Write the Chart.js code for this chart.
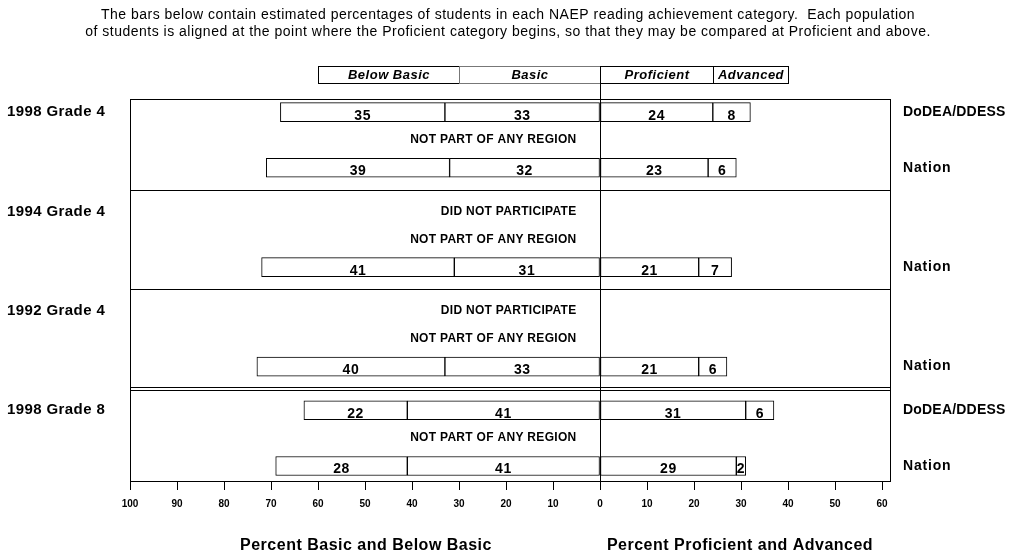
<!DOCTYPE html>
<html>
<head>
<meta charset="utf-8">
<script src="https://cdn.jsdelivr.net/npm/chart.js@4.4.1/dist/chart.umd.min.js"></script>
<style>
  body { margin: 0; background: #fff; }
  #wrap { width: 1015px; height: 552px; position: relative; }
</style>
</head>
<body>
<div id="wrap"><canvas id="naepChart"></canvas></div>
<script>
// data
const sections = ['1998 Grade 4', '1994 Grade 4', '1992 Grade 4', '1998 Grade 8'];
const levels = ['Below Basic', 'Basic', 'Proficient', 'Advanced'];

const dodeaBelowBasic = [35, null, null, 22];
const dodeaBasic      = [33, null, null, 41];
const dodeaProficient = [24, null, null, 31];
const dodeaAdvanced   = [8,  null, null, 6];

const nationBelowBasic = [39, 41, 40, 28];
const nationBasic      = [32, 31, 33, 41];
const nationProficient = [23, 21, 21, 29];
const nationAdvanced   = [6,  7,  6,  2];

const dodeaNote  = ['', 'DID NOT PARTICIPATE', 'DID NOT PARTICIPATE', ''];
const regionNote = ['NOT PART OF ANY REGION', 'NOT PART OF ANY REGION', 'NOT PART OF ANY REGION', 'NOT PART OF ANY REGION'];

const tickValues = [-100, -90, -80, -70, -60, -50, -40, -30, -20, -10, 0, 10, 20, 30, 40, 50, 60];

const titleLines = [
    'The bars below contain estimated percentages of students in each NAEP reading achievement category.  Each population',
    'of students is aligned at the point where the Proficient category begins, so that they may be compared at Proficient and above.'
];

// layout: 3 rows per section, wider gap between sections
const SECTION_STEP = 3.57;
const rowY = (s, r) => s * SECTION_STEP + r;

function segments(bb, b, p, a) {
    return [[-(bb + b), -b], [-b, 0], [0, p], [p, p + a]];
}

const segData = [[], [], [], []];
const segValues = [[], [], [], []];
sections.forEach((sec, s) => {
    if (dodeaBelowBasic[s] != null) {
        const segs = segments(dodeaBelowBasic[s], dodeaBasic[s], dodeaProficient[s], dodeaAdvanced[s]);
        const vals = [dodeaBelowBasic[s], dodeaBasic[s], dodeaProficient[s], dodeaAdvanced[s]];
        segs.forEach((seg, k) => { segData[k].push({ x: seg, y: rowY(s, 0) }); segValues[k].push(vals[k]); });
    }
    const segs = segments(nationBelowBasic[s], nationBasic[s], nationProficient[s], nationAdvanced[s]);
    const vals = [nationBelowBasic[s], nationBasic[s], nationProficient[s], nationAdvanced[s]];
    segs.forEach((seg, k) => { segData[k].push({ x: seg, y: rowY(s, 2) }); segValues[k].push(vals[k]); });
});

const FONT = '"Liberation Sans", Arial, Helvetica, sans-serif';

const decorPlugin = {
    id: 'decor',
    afterDatasetsDraw(chart) {
        const ctx = chart.ctx;
        const area = chart.chartArea;
        const xs = chart.scales.x;
        const ys = chart.scales.y;
        ctx.save();
        ctx.fillStyle = '#000';
        ctx.strokeStyle = '#000';
        ctx.lineWidth = 1;

        // title
        ctx.font = '14px ' + FONT;
        ctx.letterSpacing = '0.5px';
        ctx.textAlign = 'center';
        ctx.textBaseline = 'middle';
        ctx.fillText(titleLines[0], 508, 15);
        ctx.fillText(titleLines[1], 508, 32);

        // legend boxes
        const bounds = [-60, -30, 0, 24, 40];
        ctx.font = 'italic bold 13px ' + FONT;
        ctx.letterSpacing = '0.5px';
        levels.forEach((lv, k) => {
            const x0 = Math.round(xs.getPixelForValue(bounds[k])) + 0.5;
            const x1 = Math.round(xs.getPixelForValue(bounds[k + 1])) + 0.5;
            ctx.strokeStyle = k === 1 ? '#777' : '#000';
            ctx.strokeRect(x0, 66.5, x1 - x0, 17);
            ctx.fillText(lv, (x0 + x1) / 2, 75.5);
        });
        ctx.strokeStyle = '#000';

        // frame
        ctx.strokeRect(area.left + 0.5, area.top + 0.5, area.right - area.left, area.bottom - area.top);

        // section separators
        for (let s = 1; s < sections.length; s++) {
            const v = s * SECTION_STEP - (SECTION_STEP - 2) / 2;
            const offs = s === 3 ? [-0.06, 0.06] : [0];
            offs.forEach(o => {
                const y = Math.round(ys.getPixelForValue(v + o)) + 0.5;
                ctx.beginPath();
                ctx.moveTo(area.left, y);
                ctx.lineTo(area.right, y);
                ctx.stroke();
            });
        }

        // zero line
        const x0 = Math.round(xs.getPixelForValue(0)) + 0.5;
        ctx.beginPath();
        ctx.moveTo(x0, 66);
        ctx.lineTo(x0, area.bottom);
        ctx.stroke();

        // segment numbers
        ctx.font = 'bold 14px ' + FONT;
        ctx.letterSpacing = '0.5px';
        ctx.textBaseline = 'alphabetic';
        chart.data.datasets.forEach((ds, k) => {
            chart.getDatasetMeta(k).data.forEach((el, i) => {
                const cx = (el.x + el.base) / 2;
                ctx.fillText(String(segValues[k][i]), cx, el.y + el.height / 2 - 2);
            });
        });

        // notes
        ctx.font = 'bold 12px ' + FONT;
        ctx.letterSpacing = '0.3px';
        ctx.textAlign = 'right';
        ctx.textBaseline = 'middle';
        const noteX = xs.getPixelForValue(-5);
        sections.forEach((sec, s) => {
            if (dodeaNote[s]) ctx.fillText(dodeaNote[s], noteX, ys.getPixelForValue(rowY(s, 0)));
            ctx.fillText(regionNote[s], noteX, ys.getPixelForValue(rowY(s, 1)));
        });

        // row labels
        ctx.textAlign = 'left';
        sections.forEach((sec, s) => {
            ctx.font = 'bold 15px ' + FONT;
            ctx.letterSpacing = '0.4px';
            ctx.fillText(sec, 7, ys.getPixelForValue(rowY(s, 0)));
            ctx.font = 'bold 14px ' + FONT;
            ctx.letterSpacing = '0.2px';
            if (dodeaBelowBasic[s] != null) ctx.fillText('DoDEA/DDESS', 903, ys.getPixelForValue(rowY(s, 0)));
            ctx.letterSpacing = '0.8px';
            ctx.fillText('Nation', 903, ys.getPixelForValue(rowY(s, 2)));
        });

        // axis titles
        ctx.font = 'bold 16px ' + FONT;
        ctx.letterSpacing = '0.5px';
        ctx.textAlign = 'center';
        ctx.fillText('Percent Basic and Below Basic', 366, 546);
        ctx.fillText('Percent Proficient and Advanced', 740, 546);
        ctx.restore();
    }
};

const ctx = document.getElementById('naepChart').getContext('2d');
new Chart(ctx, {
    type: 'bar',
    data: {
        datasets: levels.map((lv, k) => ({
            label: lv,
            data: segData[k],
            backgroundColor: '#fff',
            borderColor: '#000',
            borderWidth: 1,
            borderSkipped: false,
            barThickness: 19,
            grouped: false
        }))
    },
    options: {
        indexAxis: 'y',
        responsive: true,
        maintainAspectRatio: false,
        animation: false,
        layout: { padding: { top: 99, left: 130, right: 125, bottom: 0 } },
        plugins: { legend: { display: false }, tooltip: { enabled: false }, title: { display: false } },
        scales: {
            x: {
                type: 'linear',
                min: -100,
                max: 61.7,
                afterBuildTicks: scale => { scale.ticks = tickValues.map(v => ({ value: v })); },
                afterFit: scale => { scale.height = 71; },
                grid: { drawOnChartArea: false, drawTicks: true, tickLength: 9, color: '#000' },
                border: { display: true, color: '#000' },
                ticks: {
                    autoSkip: false,
                    maxRotation: 0,
                    padding: 8,
                    color: '#000',
                    font: { family: FONT, size: 10, weight: 'bold' },
                    callback: v => Math.abs(v)
                }
            },
            y: {
                type: 'linear',
                reverse: true,
                offset: false,
                min: -0.47,
                max: 13.25,
                display: false
            }
        }
    },
    plugins: [decorPlugin]
});
</script>
</body>
</html>
